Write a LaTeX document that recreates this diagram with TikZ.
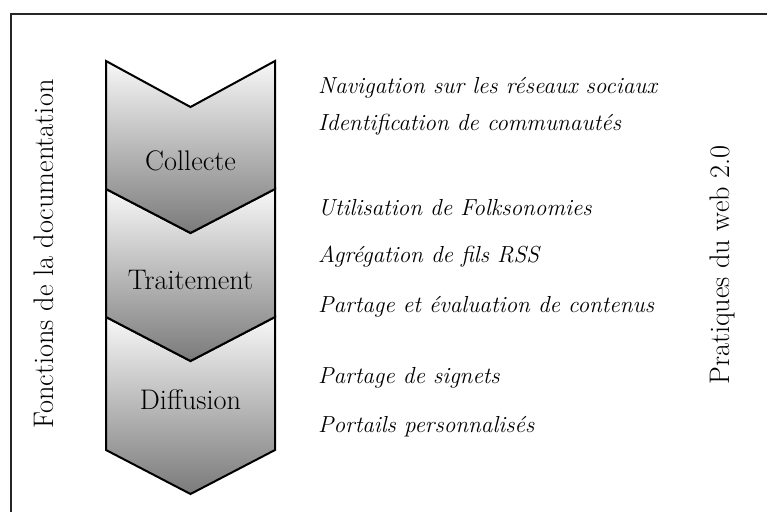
\documentclass[tikz,border=0pt]{standalone}
\usepackage{fontspec}
\begin{document}
\begin{tikzpicture}[x=1pt,y=-1pt,
  chev/.style={draw=black,line width=2pt,line join=miter,top color=black!3,bottom color=black!52},
  stage/.style={font=\fontsize{28.3}{32}\selectfont,anchor=base,inner sep=0pt},
  item/.style={font=\fontsize{23.2}{28}\selectfont\itshape,anchor=base west,inner sep=0pt},
  side/.style={font=\fontsize{28.3}{32}\selectfont,anchor=base,inner sep=0pt,rotate=90}]
\useasboundingbox (0,0) rectangle (767,511);
\clip (0,0) rectangle (767,511);
\draw[line width=1.6pt,black!85] (11,14) rectangle (800,540);
% chevrons
\draw[chev] (106,317) -- (190.5,361) -- (275,317) -- (275,450) -- (190.5,494) -- (106,450) -- cycle;
\draw[chev] (106,189) -- (190.5,233) -- (275,189) -- (275,317) -- (190.5,361) -- (106,317) -- cycle;
\draw[chev] (106,61) -- (190.5,107) -- (275,61) -- (275,189) -- (190.5,233) -- (106,189) -- cycle;
\node[stage] (collecte) at (190.5,170) {Collecte};
\node[stage] (traitement) at (190.5,289) {Traitement};
\node[stage] (diffusion) at (190.5,409) {Diffusion};
% items
\node[item] (i1) at (318,93) {Navigation sur les réseaux sociaux};
\node[item] (i2) at (318,130) {Identification de communautés};
\node[item] (i3) at (318,215) {Utilisation de Folksonomies};
\node[item] (i4) at (318,262) {Agrégation de fils RSS};
\node[item] (i5) at (318,312) {Partage et évaluation de contenus};
\node[item] (i6) at (318,383) {Partage de signets};
\node[item] (i7) at (318,432) {Portails personnalisés};
% side labels
\node[side] (left) at (53,254) {Fonctions de la documentation};
\node[side] (right) at (729,265) {Pratiques du web 2.0};
\end{tikzpicture}
\end{document}
